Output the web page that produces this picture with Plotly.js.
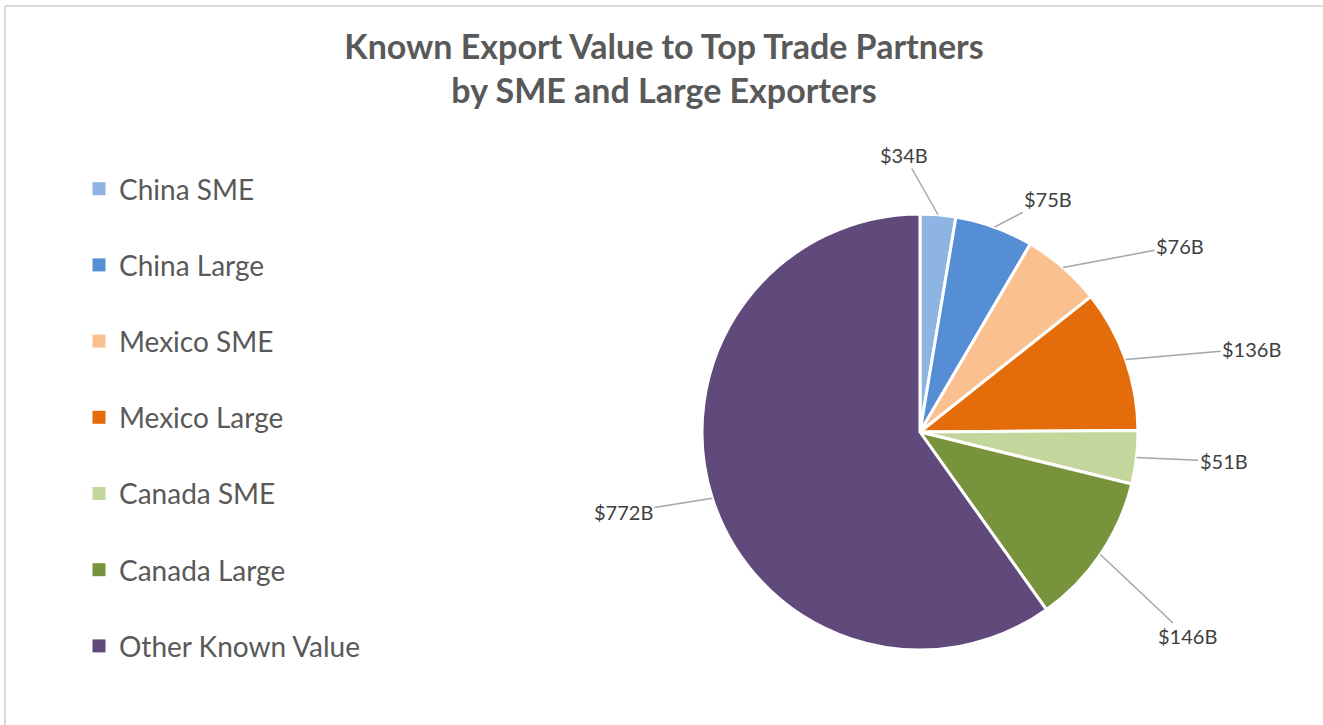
<!DOCTYPE html>
<html>
<head>
<meta charset="utf-8">
<script src="https://cdn.plot.ly/plotly-3.0.1.min.js"></script>
<style>html,body{margin:0;padding:0;background:#fff;}#chart{width:1323px;height:725px;}</style>
</head>
<body>
<div id="chart"></div>
<script>
// ---- data ----
const categories = ["China SME", "China Large", "Mexico SME", "Mexico Large", "Canada SME", "Canada Large", "Other Known Value"];
const values = [34, 75, 76, 136, 51, 146, 772];          // billions of dollars
const valueLabels = ["$34B", "$75B", "$76B", "$136B", "$51B", "$146B", "$772B"];
const colors = ["#8EB4E3", "#558ED5", "#FAC090", "#E46C0A", "#C3D69B", "#77933C", "#604A7B"];

// ---- layout constants (positions / sizes, not data) ----
const W = 1323, H = 725;
const CX = 920, CY = 432, R = 218;            // pie centre and radius in px
const labelOffsets = [[-34, -60], [54, -28], [117, -22], [126, -11], [87, 4], [87, 82], [-89, 14]];
const FONT = "Lato, 'Open Sans', sans-serif";

const pie = {
  type: "pie",
  labels: categories,
  values: values,
  sort: false,
  direction: "clockwise",
  rotation: 0,
  textinfo: "none",
  hoverinfo: "label+value",
  marker: { colors: colors, line: { color: "#ffffff", width: 3 } },
  domain: { x: [(CX - R) / W, (CX + R) / W], y: [(H - CY - R) / H, (H - CY + R) / H] },
  showlegend: false
};

// legend entries (one per category, each in its own group for spacing)
const legendTraces = categories.map((c, i) => ({
  type: "scatter",
  mode: "markers",
  x: [null], y: [null],
  name: c,
  legendgroup: "g" + i,
  marker: { symbol: "square", size: 13, color: colors[i] },
  hoverinfo: "skip",
  showlegend: true
}));

// data labels with leader lines, anchored on slice edges computed from values
const total = values.reduce((a, b) => a + b, 0);
let cum = 0;
const annotations = values.map((v, i) => {
  const mid = (cum + v / 2) / total * 2 * Math.PI;
  cum += v;
  const ang = Math.PI / 2 - mid;
  const px = CX + R * Math.cos(ang);
  const py = CY - R * Math.sin(ang);
  return {
    xref: "paper", yref: "paper",
    x: px / W, y: 1 - py / H,
    ax: labelOffsets[i][0], ay: labelOffsets[i][1],
    axref: "pixel", ayref: "pixel",
    text: valueLabels[i],
    showarrow: true, arrowhead: 0, arrowwidth: 1.5, arrowcolor: "#A6A6A6",
    standoff: 0, startstandoff: 0,
    font: { family: FONT, size: 20, color: "#404040" }
  };
});

const layout = {
  width: W, height: H,
  margin: { l: 0, r: 0, t: 0, b: 0 },
  paper_bgcolor: "#ffffff",
  plot_bgcolor: "#ffffff",
  title: {
    text: "<b>Known Export Value to Top Trade Partners<br>by SME and Large Exporters</b>",
    font: { family: FONT, size: 34, color: "#595959" },
    x: 0.5 * (W + 5) / W, xanchor: "center",
    y: 1 - 59 / H, yanchor: "middle", yref: "container"
  },
  xaxis: { visible: false },
  yaxis: { visible: false },
  legend: {
    x: 79 / W, xanchor: "left",
    y: 1 - 164 / H, yanchor: "top",
    font: { family: FONT, size: 28, color: "#595959" },
    tracegroupgap: 36.8,
    bgcolor: "rgba(0,0,0,0)"
  },
  annotations: annotations,
  shapes: [
    { type: "line", xref: "paper", yref: "paper", x0: 5 / W, x1: 5 / W, y0: 0, y1: 1 - 6 / H, line: { color: "#D9D9D9", width: 2 } },
    { type: "line", xref: "paper", yref: "paper", x0: 5 / W, x1: 1, y0: 1 - 6 / H, y1: 1 - 6 / H, line: { color: "#D9D9D9", width: 2 } }
  ],
  hovermode: "closest"
};

Plotly.newPlot("chart", [pie].concat(legendTraces), layout, { displayModeBar: false, responsive: false });
</script>
</body>
</html>
